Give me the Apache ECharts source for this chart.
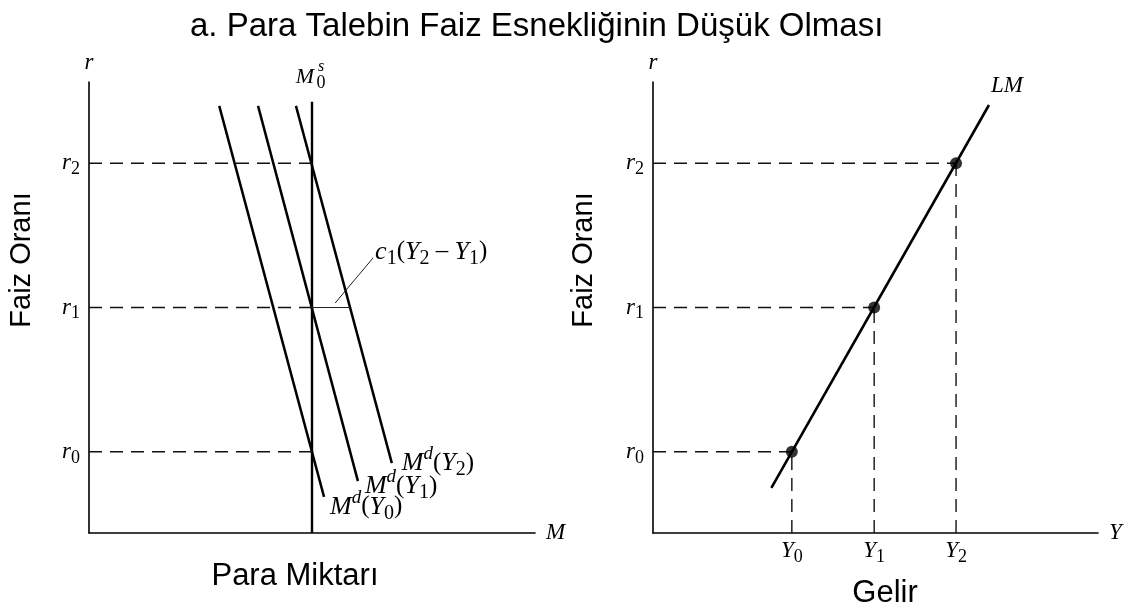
<!DOCTYPE html>
<html>
<head>
<meta charset="utf-8">
<script src="https://cdn.jsdelivr.net/npm/echarts@6/dist/echarts.min.js"></script>
<style>
  html, body { margin: 0; padding: 0; background: #fff; }
  #chart { width: 1129px; height: 611px; }
</style>
</head>
<body>
<div id="chart"></div>
<script>
// interest rate levels r0, r1, r2 (same on both panels)
var rValues = [1.8, 5.0, 8.2];
// money supply M0s
var moneySupply = 5.0;
var supplyTop = 9.56;
// money demand lines Md(Y0), Md(Y1), Md(Y2): top and bottom ends
var mdTop = [[2.92, 9.47], [3.79, 9.47], [4.64, 9.47]];
var mdBottom = [[5.27, 0.80], [6.03, 1.15], [6.79, 1.55]];
// c1(Y2 - Y1) gap at r1 and its pointer
var gapEnd = 5.85;
var pointer = [[5.52, 5.10], [6.37, 6.10]];
// income levels Y0, Y1, Y2 and LM curve ends
var yValues = [3.12, 4.97, 6.81];
var lmEnds = [[2.66, 1.0], [7.55, 9.49]];

var serif = 'Liberation Serif';
var sans = 'Liberation Sans';
function richSet(size) {
  return {
    i: { fontFamily: serif, fontStyle: 'italic', fontSize: size, color: '#000', lineHeight: 24 },
    n: { fontFamily: serif, fontSize: size - 1, color: '#000', lineHeight: 24 },
    sub: { fontFamily: serif, fontSize: Math.round(size * 0.78), color: '#000', lineHeight: 24, padding: [Math.round(size * 0.52), 0, 0, 0] },
    sup: { fontFamily: serif, fontStyle: 'italic', fontSize: Math.round(size * 0.74), color: '#000', lineHeight: 24, padding: [0, 0, Math.round(size * 0.7), 0] }
  };
}
var rich = richSet(23);
var richBig = richSet(26);
// label nudges for Md(Y0), Md(Y1), Md(Y2)
var mdLabelOffset = [[4, 10], [5, 5], [8, 0]];

function nearest(arr, v) {
  var best = 0;
  arr.forEach(function (a, k) { if (Math.abs(a - v) < Math.abs(arr[best] - v)) best = k; });
  return best;
}

var axisLine = { show: true, onZero: false, lineStyle: { color: '#000', width: 1.6 } };
var dash = { color: '#111', width: 1.4, type: [13, 8] };

function xAxis(gridIndex, name, labels) {
  return {
    type: 'value', gridIndex: gridIndex, min: 0, max: 10,
    name: name, nameLocation: 'end', nameGap: 11,
    nameTextStyle: { fontFamily: serif, fontStyle: 'italic', fontSize: 23, color: '#000' },
    axisLine: axisLine, axisTick: { show: false }, splitLine: { show: false },
    axisLabel: labels ? {
      customValues: labels, margin: 6, rich: rich,
      formatter: function (v) { return '{i|Y}{sub|' + nearest(labels, v) + '}'; }
    } : { show: false }
  };
}
function yAxis(gridIndex) {
  return {
    type: 'value', gridIndex: gridIndex, min: 0, max: 10,
    name: 'r', nameLocation: 'end', nameGap: 8,
    nameTextStyle: { fontFamily: serif, fontStyle: 'italic', fontSize: 23, color: '#000' },
    axisLine: axisLine, axisTick: { show: false }, splitLine: { show: false },
    axisLabel: {
      customValues: rValues, margin: 9, rich: rich,
      formatter: function (v) { return '{i|r}{sub|' + nearest(rValues, v) + '}'; }
    }
  };
}

function seg(a, b, xi, style, endLabel) {
  var end = endLabel ? { value: b, label: endLabel } : b;
  return {
    type: 'line', xAxisIndex: xi, yAxisIndex: xi, data: [a, end],
    symbol: 'circle', symbolSize: 0, showSymbol: true, silent: true,
    itemStyle: { color: 'rgba(0,0,0,0)' },
    lineStyle: style, z: 3,
    label: { show: false }
  };
}

function mdLabel(k) {
  return {
    show: true, position: 'right', distance: 2, offset: mdLabelOffset[k], rich: richBig,
    formatter: '{i|M}{sup|d}{n|(}{i|Y}{sub|' + k + '}{n|)}'
  };
}

var series = [];
// money supply vertical line
series.push(seg([moneySupply, 0], [moneySupply, supplyTop], 0, { color: '#000', width: 2.4 }));
// money demand lines
mdTop.forEach(function (t, k) {
  series.push(seg(t, mdBottom[k], 0, { color: '#000', width: 2.5 }, mdLabel(k)));
});
// dashed r levels on the left panel
rValues.forEach(function (r) {
  series.push(seg([0, r], [moneySupply, r], 0, dash));
});
// c1(Y2 - Y1) gap and pointer
series.push(seg([moneySupply, rValues[1]], [gapEnd, rValues[1]], 0, { color: '#222', width: 1.2 }));
series.push(seg(pointer[0], pointer[1], 0, { color: '#222', width: 1 }, {
  show: true, position: 'right', distance: 2, offset: [0, -6], rich: richBig,
  formatter: '{i|c}{sub|1}{n|(}{i|Y}{sub|2}{n| \u2013 }{i|Y}{sub|1}{n|)}'
}));
// right panel dashed guides
rValues.forEach(function (r, k) {
  series.push(seg([0, r], [yValues[k], r], 1, dash));
  series.push(seg([yValues[k], 0], [yValues[k], r], 1, dash));
});
// LM curve
series.push(seg(lmEnds[0], lmEnds[1], 1, { color: '#000', width: 2.6 }, {
  show: true, position: 'right', distance: 2, offset: [0, -19], rich: rich,
  formatter: '{i|LM}'
}));
// equilibrium points
series.push({
  type: 'scatter', xAxisIndex: 1, yAxisIndex: 1, symbolSize: 12, z: 5, silent: true,
  itemStyle: { color: '#000' },
  data: yValues.map(function (y, k) { return [y, rValues[k]]; })
});

var option = {
  backgroundColor: '#fff',
  animation: false,
  title: {
    text: 'a. Para Talebin Faiz Esnekliğinin Düşük Olması',
    left: 185, top: 5,
    textStyle: { fontFamily: sans, fontSize: 33, fontWeight: 'normal', color: '#000' }
  },
  grid: [
    { left: 89, top: 82, width: 446, height: 451 },
    { left: 653, top: 82, width: 445, height: 451 }
  ],
  xAxis: [xAxis(0, 'M'), xAxis(1, 'Y', yValues)],
  yAxis: [yAxis(0), yAxis(1)],
  series: series
};

var chart = echarts.init(document.getElementById('chart'));
chart.setOption(option);

// M0s label above the supply line, and panel captions
var p = chart.convertToPixel({ gridIndex: 0 }, [moneySupply, supplyTop]);
var txt = { fontFamily: sans, fontSize: 29, fill: '#000', align: 'center', verticalAlign: 'middle' };
chart.setOption({
  graphic: [
    { type: 'text', x: p[0] - 7, y: p[1] - 25, style: { text: 'M', fontFamily: serif, fontStyle: 'italic', fontSize: 22, fill: '#000', align: 'center', verticalAlign: 'middle' } },
    { type: 'text', x: p[0] + 9, y: p[1] - 35, style: { text: 's', fontFamily: serif, fontStyle: 'italic', fontSize: 16, fill: '#000', align: 'center', verticalAlign: 'middle' } },
    { type: 'text', x: p[0] + 9, y: p[1] - 19, style: { text: '0', fontFamily: serif, fontSize: 18, fill: '#000', align: 'center', verticalAlign: 'middle' } },
    { type: 'text', x: 22, y: 260, rotation: Math.PI / 2, style: Object.assign({ text: 'Faiz Oranı' }, txt) },
    { type: 'text', x: 584, y: 260, rotation: Math.PI / 2, style: Object.assign({ text: 'Faiz Oranı' }, txt) },
    { type: 'text', x: 295, y: 576, style: Object.assign({}, txt, { text: 'Para Miktarı', fontSize: 31 }) },
    { type: 'text', x: 885, y: 593, style: Object.assign({}, txt, { text: 'Gelir', fontSize: 31 }) }
  ]
});
</script>
</body>
</html>
